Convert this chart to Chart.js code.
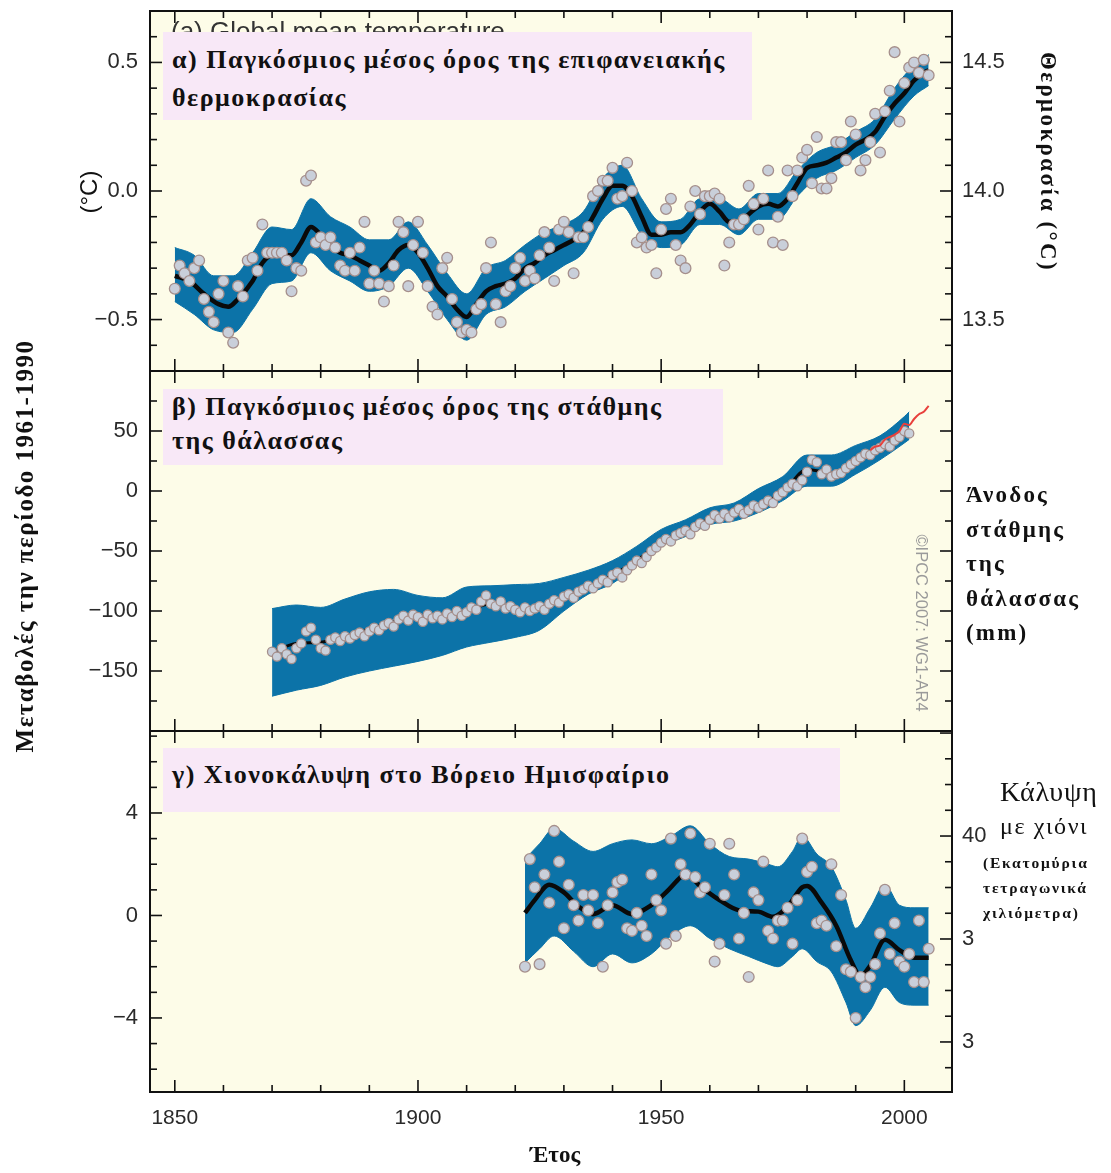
<!DOCTYPE html>
<html>
<head>
<meta charset="utf-8">
<title>Παγκόσμια θερμοκρασία, στάθμη θάλασσας, χιονοκάλυψη</title>
<script src="https://cdn.jsdelivr.net/npm/chart.js@4.4.1/dist/chart.umd.min.js"></script>
<style>
  body { margin: 0; background: #fff; }
  #wrap { position: relative; width: 1111px; height: 1173px; overflow: hidden; }
  canvas { position: absolute; left: 0; }
  .box { position: absolute; background: #f8e8f7; }
  .t { position: absolute; white-space: nowrap; color: #111; font-family: 'Liberation Serif', 'DejaVu Serif', serif; font-weight: bold; }
  .sans { font-family: 'Liberation Sans', Arial, sans-serif; font-weight: normal; }
  .rot { text-align: center; }
</style>
</head>
<body>
<div id="wrap">
  <canvas id="chartA" width="1111" height="420" style="top:-20px"></canvas>
  <canvas id="chartB" width="1111" height="420" style="top:340px"></canvas>
  <canvas id="chartC" width="1111" height="473" style="top:700px"></canvas>

  <!-- panel titles -->
  <div class="t sans" style="left:171px;top:16px;font-size:26px;color:#333;">(a) Global mean temperature</div>
  <div class="box" style="left:163px;top:32px;width:589px;height:88px;"></div>
  <div class="t" style="left:172px;top:41px;font-size:26px;line-height:38px;letter-spacing:1.5px;">α) Παγκόσμιος μέσος όρος της επιφανειακής<br>θερμοκρασίας</div>

  <div class="box" style="left:163px;top:389px;width:560px;height:76px;"></div>
  <div class="t" style="left:172px;top:390px;font-size:26px;line-height:34px;letter-spacing:1.5px;">β) Παγκόσμιος μέσος όρος της στάθμης<br>της θάλασσας</div>

  <div class="box" style="left:163px;top:748px;width:677px;height:64px;"></div>
  <div class="t" style="left:172px;top:758px;font-size:26px;line-height:34px;letter-spacing:1.5px;">γ) Χιονοκάλυψη στο Βόρειο Ημισφαίριο</div>

  <!-- axis titles -->
  <div class="t rot" style="left:-215px;top:532px;width:480px;line-height:28px;font-size:25px;letter-spacing:1.5px;transform:rotate(-90deg);">Μεταβολές την περίοδο 1961-1990</div>
  <div class="t sans rot" style="left:54px;top:178px;width:70px;line-height:28px;font-size:24px;transform:rotate(-90deg);">(°C)</div>
  <div class="t rot" style="left:908px;top:148px;width:280px;line-height:28px;font-size:23px;letter-spacing:2.4px;transform:rotate(90deg);">Θερμοκρασία (°C)</div>
  <div class="t sans rot" style="left:807px;top:613px;width:230px;line-height:20px;font-size:16.5px;color:#9a9a9a;transform:rotate(90deg);">©IPCC 2007: WG1-AR4</div>
  <div class="t" style="left:966px;top:478px;font-size:23px;line-height:34.5px;letter-spacing:2.2px;">Άνοδος<br>στάθμης<br>της<br>θάλασσας<br>(mm)</div>
  <div class="t" style="left:1000px;top:776px;font-size:28px;line-height:32px;font-weight:normal;letter-spacing:0.8px;">Κάλυψη</div>
  <div class="t" style="left:1000px;top:811px;font-size:24px;line-height:30px;font-weight:normal;letter-spacing:1.6px;">με χιόνι</div>
  <div class="t" style="left:983px;top:850px;font-size:15.5px;line-height:25px;letter-spacing:1.8px;">(Εκατομύρια<br>τετραγωνικά<br>χιλιόμετρα)</div>
  <div class="t" style="left:500px;top:1140px;width:110px;text-align:center;font-size:23px;line-height:30px;">Έτος</div>
</div>

<script>
// common x range (years)
const xMin = 1844.9;
const xMax = 2009.8;
const xLabels = [1850, 1900, 1950, 2000];

// (a) global mean temperature, annual values from 1850
const tempFirstYear = 1850;
const tempDots = [
  -0.38, -0.29, -0.32, -0.35, -0.30, -0.27, -0.42, -0.47, -0.51, -0.40,
  -0.35, -0.55, -0.59, -0.37, -0.41, -0.27, -0.26, -0.31, -0.13, -0.24,
  -0.24, -0.24, -0.24, -0.27, -0.39, -0.30, -0.31, 0.04, 0.06, -0.20,
  -0.18, -0.21, -0.18, -0.22, -0.29, -0.31, -0.24, -0.31, -0.22, -0.12,
  -0.36, -0.31, -0.36, -0.43, -0.37, -0.29, -0.12, -0.16, -0.37, -0.21,
  -0.12, -0.24, -0.37, -0.45, -0.48, -0.30, -0.26, -0.42, -0.51, -0.55,
  -0.54, -0.55, -0.46, -0.44, -0.30, -0.20, -0.44, -0.51, -0.39, -0.37,
  -0.30, -0.26, -0.35, -0.31, -0.34, -0.25, -0.16, -0.22, -0.35, -0.15,
  -0.12, -0.16, -0.32, -0.18, -0.18, -0.14, -0.02, 0.00, 0.04, 0.04,
  0.09, -0.03, -0.02, 0.11, 0.00, -0.20, -0.18, -0.22, -0.21, -0.32,
  -0.15, -0.07, -0.03, -0.21, -0.27, -0.30, -0.06, 0.00, -0.09, -0.02,
  -0.02, -0.01, -0.03, -0.29, -0.20, -0.13, -0.13, -0.11, 0.02, -0.05,
  -0.15, -0.03, 0.08, -0.20, -0.10, -0.21, 0.08, -0.02, 0.08, 0.13,
  0.16, 0.03, 0.21, 0.01, 0.01, 0.05, 0.19, 0.19, 0.12, 0.27,
  0.22, 0.08, 0.12, 0.19, 0.30, 0.15, 0.31, 0.39, 0.54, 0.27,
  0.42, 0.48, 0.50, 0.46, 0.51, 0.45
];
const tempCurveYears = [1850, 1853, 1856, 1859, 1861, 1863, 1866, 1868,
  1870, 1872, 1874, 1876, 1878, 1880, 1882, 1884, 1886, 1888,
  1890, 1892, 1894, 1896, 1898, 1900, 1902, 1904, 1906, 1908,
  1910, 1912, 1914, 1916, 1918, 1920, 1922, 1924, 1926, 1928,
  1930, 1932, 1934, 1936, 1938, 1940, 1942, 1944, 1946, 1948,
  1950, 1952, 1954, 1956, 1958, 1960, 1962, 1964, 1966, 1968,
  1970, 1972, 1974, 1976, 1978, 1980, 1982, 1984, 1986, 1988,
  1990, 1992, 1994, 1996, 1998, 2000, 2002, 2004, 2005];
const tempCurve = [-0.33, -0.35, -0.40, -0.44, -0.45, -0.42, -0.35, -0.28,
  -0.25, -0.25, -0.25, -0.20, -0.14, -0.17, -0.21, -0.24, -0.25, -0.27,
  -0.29, -0.31, -0.28, -0.23, -0.21, -0.24, -0.30, -0.37, -0.41, -0.46,
  -0.49, -0.44, -0.39, -0.37, -0.36, -0.34, -0.30, -0.28, -0.25, -0.23,
  -0.21, -0.19, -0.16, -0.10, -0.03, 0.02, 0.02, -0.02, -0.10, -0.17,
  -0.17, -0.16, -0.16, -0.13, -0.08, -0.05, -0.08, -0.12, -0.12, -0.09,
  -0.06, -0.05, -0.06, -0.03, 0.03, 0.09, 0.10, 0.11, 0.13, 0.15,
  0.18, 0.20, 0.23, 0.29, 0.34, 0.38, 0.43, 0.46, 0.47];
const tempBandYears = [1850, 1854, 1858, 1862, 1866, 1870, 1874, 1878, 1882, 1886,
  1890, 1894, 1898, 1902, 1906, 1910, 1914, 1918, 1922, 1926,
  1930, 1934, 1938, 1942, 1946, 1950, 1954, 1958, 1962, 1966,
  1970, 1974, 1978, 1982, 1986, 1990, 1994, 1998, 2002, 2005];
const tempBandHi = [-0.22, -0.25, -0.33, -0.33, -0.24, -0.14, -0.15, -0.03, -0.10, -0.14,
  -0.19, -0.19, -0.12, -0.21, -0.32, -0.40, -0.30, -0.27, -0.21, -0.16,
  -0.13, -0.08, 0.05, 0.10, -0.03, -0.12, -0.11, -0.03, -0.03, -0.07,
  -0.01, -0.01, 0.08, 0.15, 0.18, 0.23, 0.28, 0.40, 0.49, 0.53];
const tempBandLo = [-0.43, -0.48, -0.54, -0.55, -0.46, -0.36, -0.35, -0.24, -0.31, -0.35,
  -0.39, -0.37, -0.30, -0.39, -0.50, -0.58, -0.48, -0.45, -0.39, -0.34,
  -0.29, -0.24, -0.11, -0.06, -0.17, -0.22, -0.21, -0.13, -0.13, -0.17,
  -0.11, -0.11, -0.02, 0.05, 0.08, 0.13, 0.18, 0.28, 0.37, 0.41];
const tempLeftTicks = [-0.5, 0, 0.5];
const tempRightTicks = [13.5, 14.0, 14.5];

// (b) global mean sea level (mm), annual values from 1870
const seaFirstYear = 1870;
const seaDots = [
  -134, -138, -131, -136, -140, -131, -127, -117, -114, -124,
  -131, -133, -124, -122, -125, -121, -123, -120, -118, -121,
  -117, -114, -116, -112, -110, -113, -107, -104, -108, -103,
  -105, -109, -103, -106, -104, -107, -102, -105, -100, -104,
  -101, -97, -99, -92, -87, -94, -96, -92, -98, -96,
  -99, -101, -97, -100, -98, -96, -99, -94, -91, -93,
  -88, -86, -89, -84, -82, -79, -81, -77, -74, -76,
  -70, -68, -72, -66, -62, -58, -60, -55, -50, -47,
  -43, -40, -42, -37, -35, -33, -36, -30, -27, -29,
  -24, -20, -23, -19, -22, -18, -15, -19, -16, -12,
  -14, -11, -8, -10, -4, -1, 3, 6, 4, 9,
  16, 26, 24, 14, 18, 12, 14, 15, 19, 22,
  25, 28, 31, 30, 34, 36, 39, 37, 42, 45,
  50, 48
];
const seaNodeYears = [1870, 1875, 1880, 1885, 1890, 1895, 1900, 1905, 1910, 1915,
  1920, 1925, 1930, 1935, 1940, 1945, 1950, 1955, 1960, 1965,
  1970, 1975, 1980, 1985, 1990, 1995, 2000, 2001];
const seaCurve = [-134, -127, -126, -121, -115, -109, -105, -104, -100, -94,
  -98, -97, -88, -80, -70, -58, -42, -34, -23, -18,
  -12, -1, 18, 15, 25, 36, 47, 49];
const seaBandHi = [-98, -95, -97, -90, -84, -82, -87, -89, -80, -79,
  -78, -77, -72, -66, -58, -46, -32, -24, -14, -10,
  2, 12, 30, 30, 38, 46, 62, 66];
const seaBandLo = [-171, -166, -162, -155, -150, -146, -142, -137, -130, -126,
  -122, -116, -100, -86, -77, -62, -46, -38, -28, -25,
  -18, -8, 4, 4, 14, 26, 40, 43];
const satFirstYear = 1993;
const satSea = [34, 37, 38, 43, 45, 47, 50, 56, 55, 60, 64, 66, 71];
const seaLeftTicks = [-150, -100, -50, 0, 50];

// (c) NH snow cover, annual values from 1922
const snowFirstYear = 1922;
const snowDots = [
  -2.0, 2.2, 1.1, -1.9, 1.6, 0.5, 3.3, 2.1, -0.5, 1.2,
  0.4, -0.2, 0.8, 0.2, 0.8, -0.3, -2.0, 0.4, 0.9, 1.3,
  1.4, -0.5, -0.6, 0.1, -0.4, -0.8, 1.6, 0.6, 0.2, -1.1,
  3.0, -0.8, 2.0, 1.6, 3.2, 1.5, 0.9, 1.1, 2.8, -1.8,
  -1.1, 0.8, 2.8, 1.6, -0.9, 0.1, -2.4, 0.9, 0.6, 2.1,
  -0.6, -0.9, -0.2, -0.2, 0.3, -1.1, 0.6, 3.0, 1.7, 1.9,
  -0.3, -0.2, -0.4, 2.0, -1.2, 0.8, -2.1, -2.2, -4.0, -2.4,
  -2.8, -2.4, -1.9, -0.7, 1.0, -1.5, -0.3, -1.8, -2.0, -1.5,
  -2.6, -0.2, -2.6, -1.3
];
const snowCurveYears = [1922, 1924, 1927, 1930, 1933, 1936, 1940, 1944, 1948, 1951,
  1954, 1955, 1958, 1962, 1966, 1970, 1973, 1976, 1979, 1980,
  1983, 1986, 1989, 1991, 1993, 1996, 1999, 2002, 2005];
const snowCurve = [0.1, 0.6, 1.2, 0.9, 0.35, 0.05, 0.4, 0.05, 0.4, 0.9,
  1.5, 1.65, 1.15, 0.6, 0.2, 0.15, -0.05, 0.35, 1.1, 1.15,
  0.5, -0.4, -1.75, -2.35, -1.95, -0.95, -1.35, -1.65, -1.65];
const snowBandYears = [1922, 1925, 1928, 1932, 1936, 1940, 1944, 1948, 1952, 1956,
  1960, 1964, 1968, 1972, 1974, 1977, 1979, 1982, 1985, 1988,
  1990, 1993, 1996, 1999, 2002, 2005];
const snowBandHi = [2.2, 2.8, 3.4, 2.9, 2.5, 2.8, 2.95, 2.8, 3.1, 3.5,
  2.8, 2.3, 2.2, 2.0, 1.9, 2.5, 3.1, 2.4, 1.9, 0.6,
  -0.5, 0.3, 1.2, 0.4, 0.3, 0.3];
const snowBandLo = [-1.85, -1.3, -0.8, -1.4, -2.0, -1.5, -1.85, -1.5, -0.8, -0.4,
  -0.9, -1.3, -1.6, -1.9, -2.0, -1.6, -1.3, -1.8, -2.2, -3.4,
  -4.3, -3.7, -2.8, -3.4, -3.5, -3.5];
const snowLeftTicks = [-4, 0, 4];
const snowRightTicks = [30, 35, 40];
const snowRightLabels = {30: '3', 35: '3', 40: '40'};

// colours
const bandBlue = '#0c73a8';
const plotBg = '#fdfce8';
const tickFont = {family: "'Liberation Sans', Arial, sans-serif", size: 22};
const tickColor = '#2a2a2a';

function pts(xs, ys) { return xs.map((x, i) => ({x: x, y: ys[i]})); }
function yearly(first, ys) { return ys.map((y, i) => ({x: first + i, y: y})); }
function minus(s) { return String(s).replace('-', '\u2212'); }

// draws background, box frame and the inward tick marks
const frameTicks = {
  id: 'frameTicks',
  beforeDraw(chart, args, o) {
    const {ctx, chartArea: a} = chart;
    ctx.save();
    ctx.fillStyle = plotBg;
    ctx.fillRect(a.left, a.top, a.right - a.left, a.bottom - a.top);
    ctx.restore();
  },
  afterDraw(chart, args, o) {
    const {ctx, chartArea: a, scales} = chart;
    ctx.save();
    ctx.strokeStyle = '#111';
    ctx.lineWidth = 1.6;
    function seg(x1, y1, x2, y2) {
      ctx.beginPath(); ctx.moveTo(x1, y1); ctx.lineTo(x2, y2); ctx.stroke();
    }
    for (let v = 1850; v <= 2000; v += 10) {
      const px = scales.x.getPixelForValue(v);
      const len = v % 50 === 0 ? 12 : 7;
      seg(px, a.bottom, px, a.bottom - len);
      seg(px, a.top, px, a.top + len);
    }
    o.yTicks.forEach(t => {
      const s = scales[t.axis];
      const n = Math.round((t.to - t.from) / t.step);
      for (let i = 0; i <= n; i++) {
        const v = t.from + i * t.step;
        const py = s.getPixelForValue(v);
        if (py < a.top + 1 || py > a.bottom - 1) continue;
        const r = v / t.major;
        const len = Math.abs(r - Math.round(r)) < 1e-6 ? 12 : 7;
        if (t.side === 'left') seg(a.left, py, a.left + len, py);
        else seg(a.right, py, a.right - len, py);
      }
    });
    ctx.lineWidth = 2;
    ctx.strokeRect(a.left, a.top, a.right - a.left, a.bottom - a.top);
    ctx.restore();
  }
};

function yAxis(pos, min, max, ticks, fmt) {
  return {
    position: pos, min: min, max: max,
    grid: {display: false, drawTicks: false},
    border: {display: false},
    afterFit: s => { s.width = pos === 'left' ? 150 : 159; },
    afterBuildTicks: s => { s.ticks = ticks.map(v => ({value: v})); },
    ticks: {padding: pos === 'left' ? 12 : 10, font: tickFont, color: tickColor, callback: fmt}
  };
}

function xAxis(show) {
  const ax = {type: 'linear', min: xMin, max: xMax, display: show};
  if (show) {
    ax.position = 'bottom';
    ax.grid = {display: false, drawTicks: false};
    ax.border = {display: false};
    ax.afterFit = s => { s.height = 81; };
    ax.afterBuildTicks = s => { s.ticks = xLabels.map(v => ({value: v})); };
    ax.ticks = {padding: 14, font: {family: tickFont.family, size: 21}, color: tickColor,
      maxRotation: 0, autoSkip: false, callback: v => String(v)};
  }
  return ax;
}

function dots(data, r) {
  return {data: data, showLine: false, pointRadius: r, pointBackgroundColor: '#c9cfda',
    pointBorderColor: '#a58f8c', pointBorderWidth: 1.3};
}
function curve(data, w, color) {
  return {data: data, borderColor: color, borderWidth: w, pointRadius: 0,
    cubicInterpolationMode: 'monotone', fill: false};
}
function bandEdge(data, fill) {
  return {data: data, borderColor: bandBlue, borderWidth: 1, pointRadius: 0,
    cubicInterpolationMode: 'monotone', fill: fill, backgroundColor: bandBlue};
}

function makeChart(id, datasets, scales, yTicks, pad) {
  return new Chart(document.getElementById(id), {
    type: 'line',
    data: {datasets: datasets},
    options: {
      responsive: false,
      animation: false,
      events: [],
      layout: {padding: pad},
      plugins: {legend: {display: false}, tooltip: {enabled: false}, frameTicks: {yTicks: yTicks}},
      scales: scales
    },
    plugins: [frameTicks]
  });
}

// panel (a)
makeChart('chartA', [
  dots(yearly(tempFirstYear, tempDots), 5.4),
  curve(pts(tempCurveYears, tempCurve), 4.5, '#0a0a0a'),
  bandEdge(pts(tempBandYears, tempBandHi), '+1'),
  bandEdge(pts(tempBandYears, tempBandLo), false)
], {
  x: xAxis(false),
  y: yAxis('left', -0.7, 0.7, tempLeftTicks, v => minus(v.toFixed(1))),
  y2: yAxis('right', 13.3, 14.7, tempRightTicks, v => v.toFixed(1))
}, [
  {axis: 'y', side: 'left', from: -0.7, to: 0.7, step: 0.1, major: 0.5},
  {axis: 'y2', side: 'right', from: 13.3, to: 14.7, step: 0.1, major: 0.5}
], {top: 31, bottom: 29, left: 0, right: 0});

// panel (b)
makeChart('chartB', [
  curve(yearly(satFirstYear, satSea), 2, '#e8403c'),
  dots(yearly(seaFirstYear, seaDots), 4.6),
  curve(pts(seaNodeYears, seaCurve), 3, '#0a0a0a'),
  bandEdge(pts(seaNodeYears, seaBandHi), '+1'),
  bandEdge(pts(seaNodeYears, seaBandLo), false)
], {
  x: xAxis(false),
  y: yAxis('left', -200, 100, seaLeftTicks, v => minus(v)),
  y2: yAxis('right', -200, 100, [], v => '')
}, [
  {axis: 'y', side: 'left', from: -200, to: 100, step: 25, major: 50},
  {axis: 'y', side: 'right', from: -200, to: 100, step: 25, major: 50}
], {top: 31, bottom: 29, left: 0, right: 0});

// panel (c)
makeChart('chartC', [
  dots(yearly(snowFirstYear, snowDots), 5.4),
  curve(pts(snowCurveYears, snowCurve), 4.5, '#0a0a0a'),
  bandEdge(pts(snowBandYears, snowBandHi), '+1'),
  bandEdge(pts(snowBandYears, snowBandLo), false)
], {
  x: xAxis(true),
  y: yAxis('left', -6.89, 7.2, snowLeftTicks, v => minus(v)),
  y2: yAxis('right', 27.57, 45.1, snowRightTicks, v => snowRightLabels[v])
}, [
  {axis: 'y', side: 'left', from: -6, to: 7, step: 1, major: 4},
  {axis: 'y2', side: 'right', from: 28.75, to: 45, step: 1.25, major: 5}
], {top: 31, bottom: 0, left: 0, right: 0});
</script>
</body>
</html>
